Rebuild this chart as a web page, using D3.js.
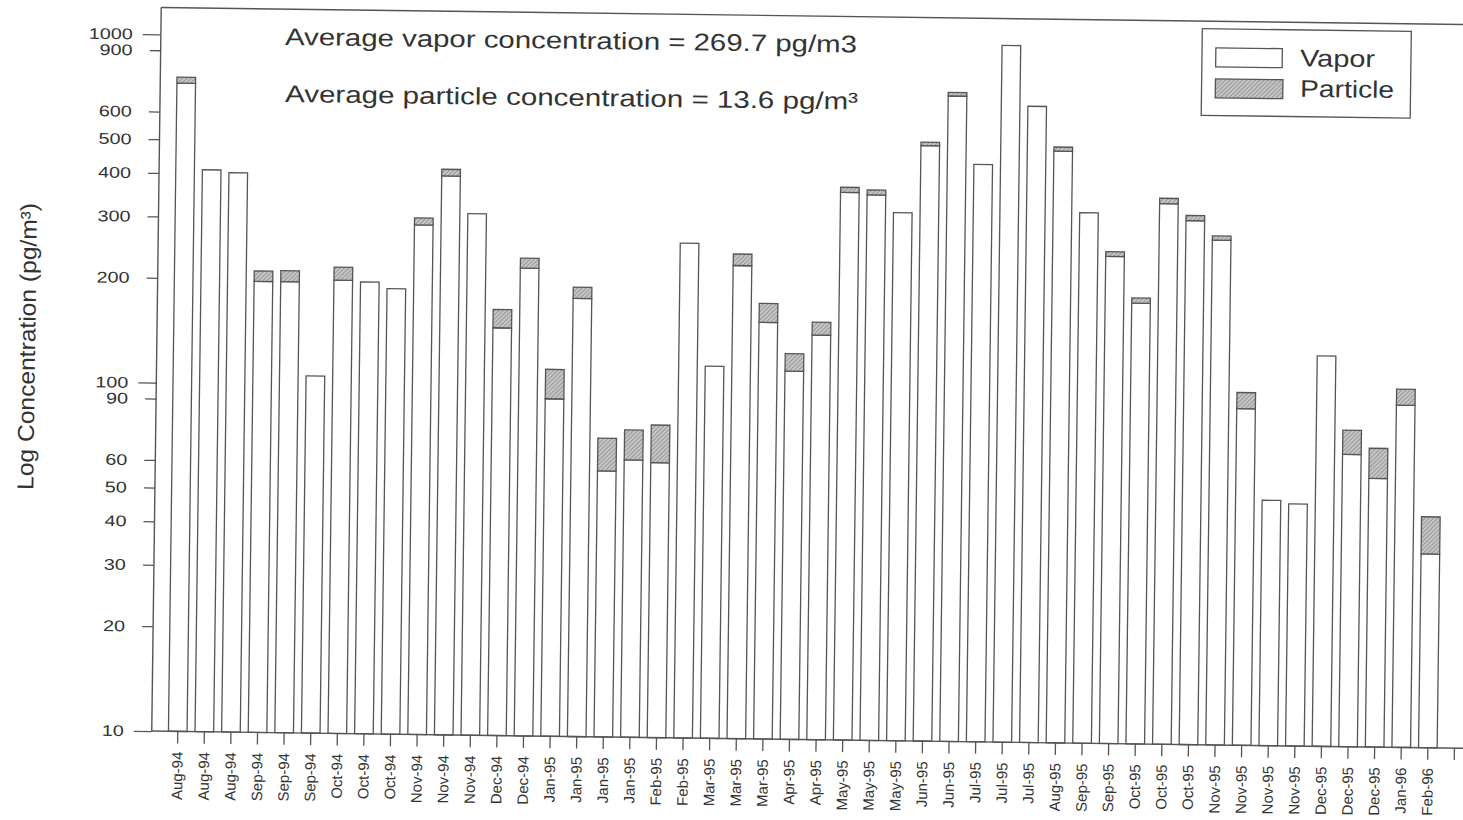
<!DOCTYPE html>
<html>
<head>
<meta charset="utf-8">
<script src="https://cdn.jsdelivr.net/npm/d3@7"></script>
<style>
  html, body { margin: 0; padding: 0; background: #ffffff; }
  svg { display: block; }
  text { font-family: "Liberation Sans", Arial, sans-serif; fill: #333; }
</style>
</head>
<body>
<script>
// ---- data ----
const categories = ["Aug-94","Aug-94","Aug-94","Sep-94","Sep-94","Sep-94","Oct-94","Oct-94","Oct-94",
  "Nov-94","Nov-94","Nov-94","Dec-94","Dec-94","Jan-95","Jan-95","Jan-95","Jan-95","Feb-95","Feb-95",
  "Mar-95","Mar-95","Mar-95","Apr-95","Apr-95","May-95","May-95","May-95","Jun-95","Jun-95",
  "Jul-95","Jul-95","Jul-95","Aug-95","Sep-95","Sep-95","Oct-95","Oct-95","Oct-95",
  "Nov-95","Nov-95","Nov-95","Nov-95","Dec-95","Dec-95","Dec-95","Jan-96","Feb-96"];
const vapor = [725,410,403,197,197,106,200,198,190,290,402,314,148,220,93,181,58,62.5,61.5,263,
  117,228,157,114,145,373,368,328,512,712,454,1000,670,499,333,250,184,356,319,281,
  92.5,50.6,49.5,132,69,59,96,36];
const particle = [30,0,0,14,15,0,18,0,0,14,18,0,19,15,20,14,14,13.7,17.4,0,
  0,18,21,14,13,13,12,0,12,17,0,0,0,14,0,8,6.5,13,11,8,
  10.4,0,0,0,12,13,10.7,10];
const yTickValues = [10,20,30,40,50,60,90,100,200,300,400,500,600,900,1000];
const majorTicks = [10,100,1000];
const seriesNames = ["Vapor","Particle"];
const annotations = ["Average vapor concentration = 269.7 pg/m3",
                     "Average particle concentration = 13.6 pg/m\u00B3"];
const yTitle = "Log Concentration (pg/m\u00B3)";

// ---- layout ----
const W = 1463, H = 820;
const axisX = 156, axisY = 738.6, topY = 15, rightX = 1485;
const lineColor = "#555";

const svg = d3.select("body").append("svg").attr("width", W).attr("height", H);
const defs = svg.append("defs");
const pat = defs.append("pattern").attr("id","hatch").attr("patternUnits","userSpaceOnUse")
  .attr("width",3).attr("height",3).attr("patternTransform","rotate(45)");
pat.append("rect").attr("width",3).attr("height",3).attr("fill","#c6c6c6");
pat.append("line").attr("x1",0).attr("y1",0).attr("x2",0).attr("y2",3)
  .attr("stroke","#777").attr("stroke-width",1.2);

// the scanned original is slightly rotated
const g = svg.append("g").attr("transform","rotate(0.75 731 410)");

const nBands = categories.length + 1; // trailing empty tick at the end of the axis
const x = d3.scaleBand().domain(d3.range(nBands)).range([168.7, 168.7 + 26.6 * nBands])
  .paddingInner(0.3).paddingOuter(0.15);
const y = d3.scaleLog().domain([10,1000]).range([axisY, 41.8]);

// bars
const data = categories.map((c,i) => ({i, v: vapor[i], p: particle[i]}));
const bars = g.append("g");
bars.selectAll("rect.vapor").data(data).join("rect").attr("class","vapor")
  .attr("x", d => x(d.i)).attr("width", x.bandwidth())
  .attr("y", d => y(d.v)).attr("height", d => y(10) - y(d.v))
  .attr("fill","#fff").attr("stroke",lineColor).attr("stroke-width",1.3);
bars.selectAll("rect.particle").data(data.filter(d => d.p > 0)).join("rect").attr("class","particle")
  .attr("x", d => x(d.i)).attr("width", x.bandwidth())
  .attr("y", d => y(d.v + d.p)).attr("height", d => y(d.v) - y(d.v + d.p))
  .attr("fill","url(#hatch)").attr("stroke",lineColor).attr("stroke-width",1.3);

// frame lines
g.append("line").attr("x1",axisX).attr("x2",rightX).attr("y1",topY).attr("y2",topY)
  .attr("stroke",lineColor).attr("stroke-width",1.4);
g.append("line").attr("x1",axisX).attr("x2",axisX).attr("y1",topY).attr("y2",axisY)
  .attr("stroke",lineColor).attr("stroke-width",1.4);
g.append("line").attr("x1",axisX).attr("x2",rightX).attr("y1",axisY).attr("y2",axisY)
  .attr("stroke",lineColor).attr("stroke-width",1.4);

// y axis
const yAxis = g.append("g").attr("transform",`translate(${axisX},0)`)
  .call(d3.axisLeft(y).tickValues(yTickValues).tickFormat(d3.format("d")).tickSize(11).tickPadding(17));
yAxis.select(".domain").remove();
yAxis.selectAll(".tick line").attr("stroke",lineColor).attr("stroke-width",1.3)
  .attr("x2", d => majorTicks.includes(d) ? -18 : -11);
yAxis.selectAll(".tick text").attr("x",-28).attr("fill","#333")
  .style("font-size","15.5px")
  .attr("textLength", d => String(d).length * 11).attr("lengthAdjust","spacingAndGlyphs");

// x axis
const xAxis = g.append("g").attr("transform",`translate(0,${axisY})`)
  .call(d3.axisBottom(x).tickSize(12).tickFormat(i => i < categories.length ? categories[i] : ""));
xAxis.select(".domain").remove();
xAxis.selectAll(".tick line").attr("stroke",lineColor).attr("stroke-width",1.3);
xAxis.selectAll(".tick text").attr("transform","rotate(-90)").attr("x",-20.3).attr("y",0)
  .attr("dy","0.35em").style("text-anchor","end").style("font-size","15px").attr("fill","#333");

// y title
g.append("text").attr("transform","translate(34.3,355.6) rotate(-90)")
  .attr("text-anchor","middle").style("font-size","23px")
  .attr("textLength",287).attr("lengthAdjust","spacingAndGlyphs").text(yTitle);

// annotations
g.append("text").attr("x",280.2).attr("y",50.8).style("font-size","24px")
  .attr("textLength",572).attr("lengthAdjust","spacingAndGlyphs").text(annotations[0]);
g.append("text").attr("x",281).attr("y",107.8).style("font-size","24px")
  .attr("textLength",573).attr("lengthAdjust","spacingAndGlyphs").text(annotations[1]);

// legend
const lg = g.append("g");
lg.append("rect").attr("x",1197.3).attr("y",22.5).attr("width",209).attr("height",86.7)
  .attr("fill","#fff").attr("stroke",lineColor).attr("stroke-width",1.3);
lg.append("rect").attr("x",1211.1).attr("y",41.5).attr("width",66.5).attr("height",19)
  .attr("fill","#fff").attr("stroke",lineColor).attr("stroke-width",1.3);
lg.append("rect").attr("x",1211.1).attr("y",72.5).attr("width",67.5).attr("height",19)
  .attr("fill","url(#hatch)").attr("stroke",lineColor).attr("stroke-width",1.3);
lg.append("text").attr("x",1295.4).attr("y",58.8).style("font-size","24px")
  .attr("textLength",75).attr("lengthAdjust","spacingAndGlyphs").text(seriesNames[0]);
lg.append("text").attr("x",1295.9).attr("y",89.4).style("font-size","24px")
  .attr("textLength",94).attr("lengthAdjust","spacingAndGlyphs").text(seriesNames[1]);
</script>
</body>
</html>
